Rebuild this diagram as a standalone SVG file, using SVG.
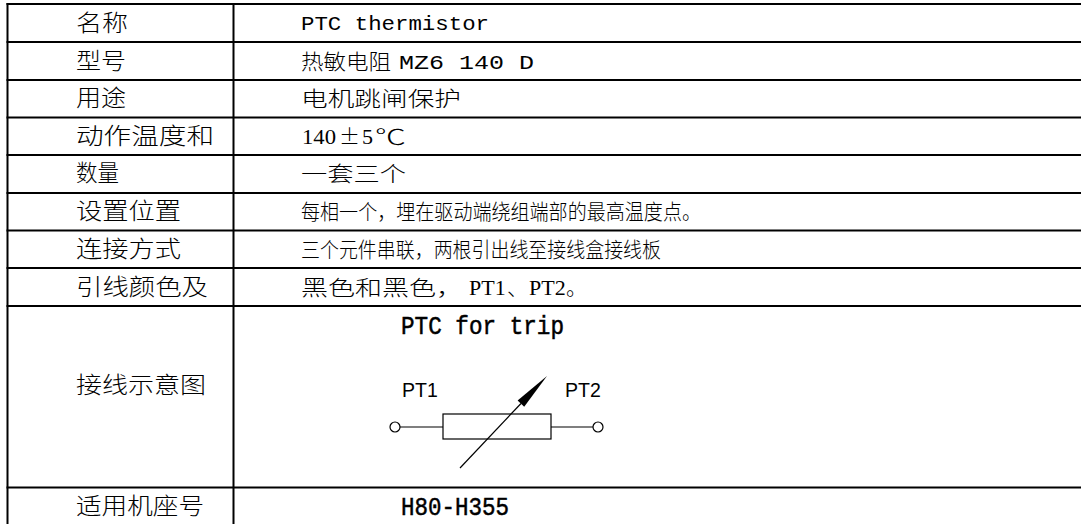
<svg xmlns="http://www.w3.org/2000/svg" width="1081" height="524" viewBox="0 0 1081 524">
<style>
.grid line{stroke:#000;stroke-width:2}
text{fill:#000}
.lbl{font-family:"Noto Sans CJK SC",sans-serif;font-size:23px;font-weight:300}
.val{font-family:"Noto Sans CJK SC",sans-serif;font-size:21px;font-weight:300}
.mono{font-family:"Liberation Mono","Noto Sans CJK SC",monospace;font-weight:normal}
.serif{font-family:"Liberation Serif","Noto Sans CJK SC",serif;font-weight:normal}
.title{stroke:#000;stroke-width:0.5}
.pin{font-family:"Liberation Sans",Arial,sans-serif;font-size:19.5px}
.wire{stroke:#000;stroke-width:1.2;fill:none}
.term{stroke:#000;stroke-width:1.2;fill:#fff}
</style>
<rect width="1081" height="524" fill="#fff"/>
<g id="grid" class="grid">
<line x1="6.5" y1="4" x2="1081" y2="4"/>
<line x1="6.5" y1="42" x2="1081" y2="42"/>
<line x1="6.5" y1="80" x2="1081" y2="80"/>
<line x1="6.5" y1="117.5" x2="1081" y2="117.5"/>
<line x1="6.5" y1="155" x2="1081" y2="155"/>
<line x1="6.5" y1="193" x2="1081" y2="193"/>
<line x1="6.5" y1="230.5" x2="1081" y2="230.5"/>
<line x1="6.5" y1="268" x2="1081" y2="268"/>
<line x1="6.5" y1="306" x2="1081" y2="306"/>
<line x1="6.5" y1="487.5" x2="1081" y2="487.5"/>
<line x1="7.5" y1="3" x2="7.5" y2="524"/>
<line x1="233.5" y1="3" x2="233.5" y2="524"/>
</g>
<g id="row-name">
<text class="lbl" x="76" y="31" textLength="52" lengthAdjust="spacingAndGlyphs">名称</text>
<text class="mono" x="301" y="30" font-size="21" textLength="188" lengthAdjust="spacingAndGlyphs">PTC thermistor</text>
</g>
<g id="row-model">
<text class="lbl" x="76" y="68.5" textLength="50" lengthAdjust="spacingAndGlyphs">型号</text>
<text class="val" x="301" y="68.5"><tspan textLength="95" lengthAdjust="spacingAndGlyphs">热敏电阻 </tspan><tspan class="mono" x="399" font-size="20" textLength="135" lengthAdjust="spacingAndGlyphs">MZ6 140 D</tspan></text>
</g>
<g id="row-use">
<text class="lbl" x="76" y="106" textLength="50" lengthAdjust="spacingAndGlyphs">用途</text>
<text class="val" x="301" y="106" textLength="160" lengthAdjust="spacingAndGlyphs">电机跳闸保护</text>
</g>
<g id="row-temp">
<text class="lbl" x="76" y="143.7" textLength="138" lengthAdjust="spacingAndGlyphs">动作温度和</text>
<text class="val" x="302" y="143.7"><tspan class="serif" font-size="22" textLength="34" lengthAdjust="spacingAndGlyphs">140</tspan><tspan x="339">±</tspan><tspan class="serif" x="362" font-size="22">5</tspan><tspan x="375" textLength="31" lengthAdjust="spacingAndGlyphs">℃</tspan></text>
</g>
<g id="row-qty">
<text class="lbl" x="76" y="181.3" textLength="43" lengthAdjust="spacingAndGlyphs">数量</text>
<text class="val" x="301" y="181.3" textLength="105" lengthAdjust="spacingAndGlyphs">一套三个</text>
</g>
<g id="row-location">
<text class="lbl" x="76" y="219" textLength="105" lengthAdjust="spacingAndGlyphs">设置位置</text>
<text class="val" x="301" y="219" textLength="400" lengthAdjust="spacingAndGlyphs">每相一个，埋在驱动端绕组端部的最高温度点。</text>
</g>
<g id="row-connection">
<text class="lbl" x="76" y="256.8" textLength="105" lengthAdjust="spacingAndGlyphs">连接方式</text>
<text class="val" x="301" y="256.8" textLength="360" lengthAdjust="spacingAndGlyphs">三个元件串联，两根引出线至接线盒接线板</text>
</g>
<g id="row-leads">
<text class="lbl" x="76" y="294.5" textLength="132" lengthAdjust="spacingAndGlyphs">引线颜色及</text>
<text class="val" x="301" y="294.5"><tspan textLength="162" lengthAdjust="spacingAndGlyphs">黑色和黑色，</tspan><tspan class="serif" x="469" font-size="22">PT1</tspan><tspan x="507">、</tspan><tspan class="serif" x="529" font-size="22">PT2</tspan><tspan x="566">。</tspan></text>
</g>
<g id="row-wiring">
<text class="lbl" x="76" y="392.5" textLength="130" lengthAdjust="spacingAndGlyphs">接线示意图</text>
<text class="mono title" x="401" y="334" font-size="25" textLength="163" lengthAdjust="spacingAndGlyphs">PTC for trip</text>
<g id="label-pt1"><text class="pin" x="402" y="397">PT1</text></g>
<g id="label-pt2"><text class="pin" x="565" y="397">PT2</text></g>
<g id="connectors">
<line class="wire" x1="400" y1="427" x2="443" y2="427"/>
<line class="wire" x1="551" y1="427" x2="593" y2="427"/>
<line class="wire" x1="460" y1="468" x2="521" y2="403.5"/>
</g>
<g id="terminal-pt1"><circle class="term" cx="395" cy="427" r="5"/></g>
<g id="terminal-pt2"><circle class="term" cx="598" cy="427" r="5"/></g>
<g id="thermistor">
<rect x="443" y="414" width="108" height="25" fill="none" stroke="#000" stroke-width="1.2"/>
<polygon points="547,376 524.2,406.7 517.6,400.5" fill="#000"/>
</g>
</g>
<g id="row-frame">
<text class="lbl" x="76" y="513.5" textLength="128" lengthAdjust="spacingAndGlyphs">适用机座号</text>
<text class="mono title" x="401" y="515" font-size="26" textLength="108" lengthAdjust="spacingAndGlyphs">H80-H355</text>
</g>
</svg>
